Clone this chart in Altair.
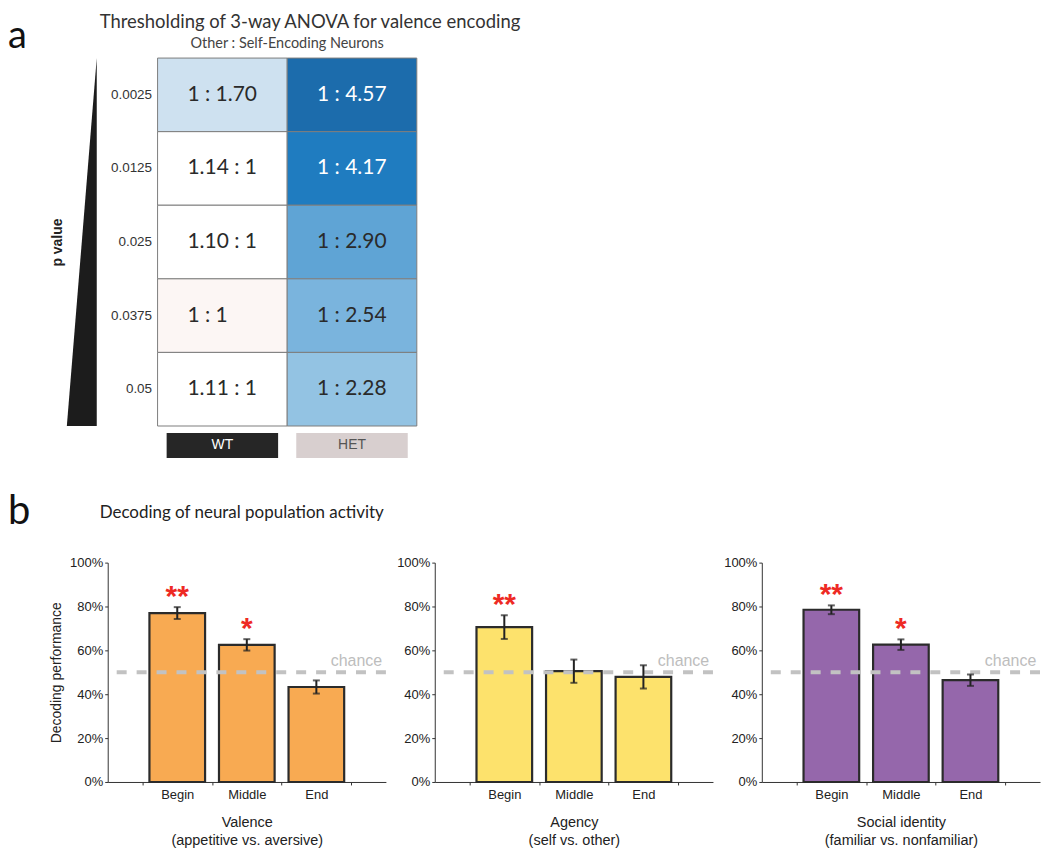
import altair as alt
import pandas as pd

# ---------------- panel a data ----------------
p_values = ["0.0025", "0.0125", "0.025", "0.0375", "0.05"]
genotypes = ["WT", "HET"]
wt_labels = ["1 : 1.70", "1.14 : 1", "1.10 : 1", "1 : 1", "1.11 : 1"]
het_labels = ["1 : 4.57", "1 : 4.17", "1 : 2.90", "1 : 2.54", "1 : 2.28"]
wt_self_per_other = [1.70, 0.877, 0.909, 1.00, 0.901]
het_self_per_other = [4.57, 4.17, 2.90, 2.54, 2.28]
triangle_p = [0.0, 0.05]

# ---------------- panel b data ----------------
epochs = ["Begin", "Middle", "End"]
valence_mean = [0.770, 0.625, 0.433]
valence_sem = [0.027, 0.026, 0.030]
valence_sig = ["**", "*", ""]
agency_mean = [0.706, 0.505, 0.479]
agency_sem = [0.054, 0.053, 0.053]
agency_sig = ["**", "", ""]
social_mean = [0.785, 0.626, 0.464]
social_sem = [0.020, 0.024, 0.026]
social_sig = ["**", "*", ""]
chance_level = [0.5]
chance_label = ["chance"]

TITLE_FONT = "Lato"
AX_FONT = "Liberation Sans"

# ---------------- panel a ----------------
heat_df = pd.DataFrame({
    "p_label": p_values * 2,
    "genotype": ["WT"] * len(p_values) + ["HET"] * len(p_values),
    "label": wt_labels + het_labels,
    "ratio": wt_self_per_other + het_self_per_other,
})

color_scale = alt.Scale(
    domain=[0.877, 0.95, 1.0, 1.70, 2.28, 2.54, 2.90, 4.17, 4.57],
    range=["#ffffff", "#ffffff", "#fcf6f4", "#cee1f0", "#93c3e3", "#7ab4dd", "#5fa4d5",
           "#1f7cc0", "#1c6cac"],
)

heat_base = alt.Chart(heat_df).encode(
    x=alt.X("genotype:N", sort=genotypes, axis=None,
            scale=alt.Scale(paddingInner=0, paddingOuter=0)),
    y=alt.Y("p_label:N", sort=p_values,
            scale=alt.Scale(paddingInner=0, paddingOuter=0),
            axis=alt.Axis(title=None, ticks=False, domain=False, labelPadding=6,
                          labelFontSize=13.5, labelFont=AX_FONT, labelColor="#333")),
)
heat_rect = heat_base.mark_rect(stroke="#7d7d7d", strokeWidth=1).encode(
    color=alt.Color("ratio:Q", scale=color_scale, legend=None)
)
heat_text = heat_base.mark_text(align="left", baseline="middle", dx=-35, fontSize=21,
                                font=TITLE_FONT).encode(
    text="label:N",
    color=alt.condition("datum.ratio > 4", alt.value("#ffffff"), alt.value("#2a2a2a")),
)
heat = alt.layer(heat_rect, heat_text).properties(
    width=260, height=369,
    title=alt.TitleParams("Other : Self-Encoding Neurons", fontSize=14.5, font=TITLE_FONT,
                          fontWeight="normal", color="#444", offset=-4.5, baseline="alphabetic"),
)

box_df = pd.DataFrame({"box_genotype": genotypes})
box_base = alt.Chart(box_df).encode(
    x=alt.X("box_genotype:N", sort=genotypes, axis=None,
            scale=alt.Scale(paddingInner=0.14, paddingOuter=0.07)),
)
box_rect = box_base.mark_rect().encode(
    color=alt.condition("datum.box_genotype == 'WT'", alt.value("#262626"), alt.value("#d8cfcf"))
)
box_text = box_base.mark_text(fontSize=14, font=AX_FONT, baseline="middle").encode(
    text="box_genotype:N",
    color=alt.condition("datum.box_genotype == 'WT'", alt.value("#ffffff"), alt.value("#555555")),
)
boxes = alt.layer(box_rect, box_text).properties(width=260, height=25)

right = alt.vconcat(heat, boxes, spacing=7, bounds="flush").properties(
    title=alt.TitleParams("Thresholding of 3-way ANOVA for valence encoding", fontSize=18.5,
                          font=TITLE_FONT, fontWeight="normal", color="#333", anchor="start",
                          frame="group", dx=-58, offset=-11, baseline="alphabetic")
)

tri_df = pd.DataFrame({"p_level": triangle_p})
tri = alt.Chart(tri_df).mark_area(orient="horizontal", color="#1c1c1c").encode(
    y=alt.Y("p_level:Q", scale=alt.Scale(domain=[0, 0.05], nice=False, reverse=True),
            axis=alt.Axis(title="p value", labels=False, ticks=False, domain=False, grid=False,
                          titleFontSize=14, titleFont=AX_FONT, titleFontWeight="bold",
                          titleColor="#222", titlePadding=2)),
    x=alt.X("p_level:Q", scale=alt.Scale(domain=[0, 0.05], nice=False, reverse=True), axis=None),
    x2=alt.datum(0),
).properties(
    width=30, height=369,
    title=alt.TitleParams("a", fontSize=38, font=TITLE_FONT, fontWeight="normal", color="#111",
                          anchor="start", frame="group", dx=-59, offset=-28,
                          baseline="alphabetic"),
)

top = alt.hconcat(tri, right, spacing=61, bounds="flush")

# ---------------- panel b ----------------
def panel(mean, sem, sig, color, xtitle, ytitle, title):
    df = pd.DataFrame({
        "epoch": epochs,
        "mean": mean,
        "lo": [m - s for m, s in zip(mean, sem)],
        "hi": [m + s for m, s in zip(mean, sem)],
        "sig": sig,
    })
    chance_df = pd.DataFrame({"level": chance_level, "text": chance_label})
    xenc = alt.X("epoch:N", sort=epochs,
                 scale=alt.Scale(paddingInner=0, paddingOuter=0.5),
                 axis=alt.Axis(title=xtitle, labelAngle=0, tickBand="extent", tickSize=3,
                               labelPadding=4, titlePadding=14, labelFontSize=13,
                               titleFontSize=14.5, titleFontWeight="normal", labelFont=AX_FONT,
                               titleFont=AX_FONT, labelColor="#222", titleColor="#222",
                               domainColor="#333", tickColor="#333", titleLineHeight=18))
    yaxis = alt.Axis(values=[i / 10 for i in range(11)], grid=False, tickSize=3, labelPadding=2,
                     labelExpr="round(datum.value * 10) % 2 == 0 ? format(datum.value, '.0%') : ''",
                     labelFontSize=13, labelFont=AX_FONT, labelColor="#222",
                     titleFontSize=14, titleFont=AX_FONT, titleFontWeight="normal",
                     titleColor="#222", titlePadding=6, domainColor="#333", tickColor="#333",
                     title=ytitle)
    yscale = alt.Scale(domain=[0, 1], nice=False)
    base = alt.Chart(df).encode(x=xenc)
    bars = base.mark_bar(width=alt.RelativeBandSize(0.8), color=color, stroke="#2b2b2b",
                         strokeWidth=2.2).encode(y=alt.Y("mean:Q", scale=yscale, axis=yaxis))
    chance = alt.Chart(chance_df).mark_rule(color="#c2c2c2", strokeWidth=4,
                                            strokeDash=[10, 10]).encode(y=alt.Y("level:Q"))
    chance_txt = alt.Chart(chance_df).mark_text(align="right", baseline="alphabetic", dx=66,
                                                dy=-6, fontSize=16, font=AX_FONT,
                                                color="#bdbdbd").encode(
        x=alt.datum("End"), y=alt.Y("level:Q"), text="text:N")
    err = base.mark_rule(color="#222", strokeWidth=2).encode(y="lo:Q", y2="hi:Q")
    cap_lo = base.mark_tick(color="#222", size=7, thickness=2).encode(y="lo:Q")
    cap_hi = base.mark_tick(color="#222", size=7, thickness=2).encode(y="hi:Q")
    stars = base.mark_text(color="#ee2a24", fontSize=30, fontWeight="bold", font=AX_FONT,
                           baseline="alphabetic", dy=-1).encode(y="hi:Q", text="sig:N")
    return alt.layer(bars, chance, chance_txt, err, cap_lo, cap_hi, stars).properties(
        width=279, height=220, title=title)


p1 = panel(valence_mean, valence_sem, valence_sig, "#f8aa52",
           ["Valence", "(appetitive vs. aversive)"], "Decoding performance",
           alt.TitleParams("b", fontSize=40, font=TITLE_FONT, fontWeight="normal", color="#111",
                           anchor="start", frame="group", dx=-100, offset=-7,
                           baseline="alphabetic"))
p2 = panel(agency_mean, agency_sem, agency_sig, "#fde26c",
           ["Agency", "(self vs. other)"], None,
           alt.TitleParams("Decoding of neural population activity", fontSize=17,
                           font=TITLE_FONT, fontWeight="normal", color="#222", anchor="start",
                           frame="group", dx=-336, offset=22, baseline="alphabetic"))
p3 = panel(social_mean, social_sem, social_sig, "#9567ab",
           ["Social identity", "(familiar vs. nonfamiliar)"], None, "")

panels = alt.hconcat(p1, p2, p3, spacing=49, bounds="flush")

# empty layout spacer so that panel b's left edge lines up with the triangle of panel a
spacer_df = pd.DataFrame({"blank": [""]})
spacer = alt.Chart(spacer_df).mark_text().encode(text="blank:N").properties(width=1, height=220)

bottom = alt.hconcat(spacer, panels, spacing=40, bounds="flush")

chart = alt.vconcat(top, bottom, spacing=34).properties(
    padding={"left": 0, "top": 4, "right": 0, "bottom": 0}
).configure_view(strokeWidth=0)
chart.save("out.html", embed_options={"renderer": "svg", "actions": False})
